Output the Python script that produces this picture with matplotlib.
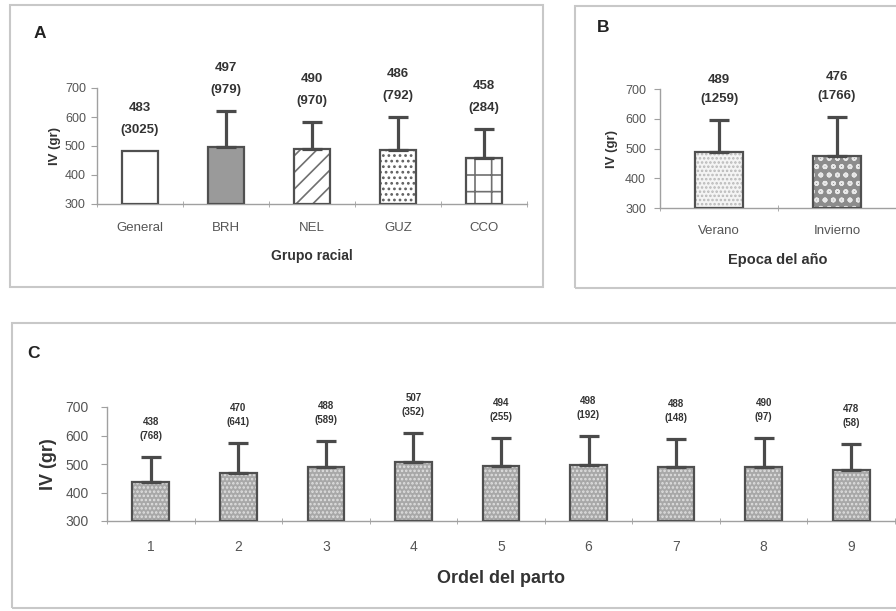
import matplotlib
matplotlib.use("Agg")
import matplotlib.pyplot as plt
from matplotlib.patches import Rectangle
import numpy as np

plt.rcParams['font.family'] = ['Liberation Sans', 'DejaVu Sans']
plt.rcParams['hatch.linewidth'] = 1.2

# ---- data ----
race_groups = ["General", "BRH", "NEL", "GUZ", "CCO"]
race_iv = [483, 497, 490, 486, 458]
race_n = [3025, 979, 970, 792, 284]
race_sd = [0, 125, 92, 114, 102]

season_labels = ["Verano", "Invierno"]
season_iv = [489, 476]
season_n = [1259, 1766]
season_sd = [106, 129]

parity_labels = ["1", "2", "3", "4", "5", "6", "7", "8", "9"]
parity_iv = [438, 470, 488, 507, 494, 498, 488, 490, 478]
parity_n = [768, 641, 589, 352, 255, 192, 148, 97, 58]
parity_sd = [88, 105, 92, 101, 98, 100, 100, 102, 92]

W, H = 896, 611
fig = plt.figure(figsize=(W / 100, H / 100), dpi=100)

frame_col = '#c8c8c8'
def frame(x0, y0, x1, y1):
    fig.patches.append(Rectangle((x0 / W, 1 - y1 / H), (x1 - x0) / W, (y1 - y0) / H,
                                 transform=fig.transFigure, fill=False,
                                 edgecolor=frame_col, linewidth=1.5, zorder=0))

frame(10, 5, 543, 287)
frame(575, 6, 920, 288)
frame(12, 323, 920, 608)

def ax_at(x0, x1, y_top, y_bot):
    return fig.add_axes([x0 / W, 1 - y_bot / H, (x1 - x0) / W, (y_bot - y_top) / H])

axis_col = '#a0a0a0'
tick_col = '#555555'
txt_col = '#333333'

def style_axes(ax, n, labels, xtick_fs, ytick_fs, xpad, ypad, ylab, ylab_fs, ylab_pad,
               xlab, xlab_fs, xlab_pad):
    ax.set_xlim(0, n)
    ax.set_ylim(300, 700)
    ax.set_yticks([300, 400, 500, 600, 700])
    ax.set_xticks(np.arange(n) + 0.5)
    ax.set_xticklabels(labels)
    ax.set_xticks(np.arange(0, n + 1), minor=True)
    for s in ['top', 'right']:
        ax.spines[s].set_visible(False)
    for s in ['left', 'bottom']:
        ax.spines[s].set_color(axis_col)
        ax.spines[s].set_linewidth(1.0)
    ax.tick_params(axis='x', which='major', length=0, pad=xpad, labelsize=xtick_fs, labelcolor=tick_col)
    ax.tick_params(axis='x', which='minor', length=4, direction='inout', color=axis_col)
    ax.tick_params(axis='y', length=4, color=axis_col, labelsize=ytick_fs, labelcolor=tick_col, pad=ypad)
    ax.set_ylabel(ylab, fontsize=ylab_fs, fontweight='bold', color=txt_col, labelpad=ylab_pad)
    ax.set_xlabel(xlab, fontsize=xlab_fs, fontweight='bold', color=txt_col, labelpad=xlab_pad)
    ax.patch.set_alpha(0)

def draw_bars(ax, vals, sds, styles, width, capsize):
    x = np.arange(len(vals)) + 0.5
    for xi, v, sd, st in zip(x, vals, sds, styles):
        fc, hatch, hc = st
        base = 300
        if hatch:
            ax.bar(xi, v - base, width, bottom=base, facecolor=fc, edgecolor=hc,
                   hatch=hatch, linewidth=0, zorder=2)
        else:
            ax.bar(xi, v - base, width, bottom=base, facecolor=fc, linewidth=0, zorder=2)
        ax.bar(xi, v - base, width, bottom=base, fill=False, edgecolor='#505050',
               linewidth=1.6, zorder=3)
        if sd > 0:
            ax.errorbar(xi, v, yerr=[[0], [sd]], fmt='none', ecolor='#4a4a4a',
                        elinewidth=2.3, capsize=capsize, capthick=2.3, zorder=4)
    return x

def draw_labels(ax, x, vals, ns, sds, fs, off1, off2):
    for xi, v, n, sd in zip(x, vals, ns, sds):
        top = v + sd
        ax.annotate(f"({n})", (xi, top), xytext=(0, off1), textcoords='offset points',
                    ha='center', va='center', fontsize=fs, fontweight='bold', color=txt_col,
                    annotation_clip=False)
        ax.annotate(f"{v}", (xi, top), xytext=(0, off2), textcoords='offset points',
                    ha='center', va='center', fontsize=fs, fontweight='bold', color=txt_col,
                    annotation_clip=False)

# ---- Panel A ----
axA = ax_at(97, 527, 88, 204)
stylesA = [('white', None, None),
           ('#9a9a9a', None, None),
           ('white', '//', '#707070'),
           ('white', '...', '#606060'),
           ('white', '+', '#707070')]
xA = draw_bars(axA, race_iv, race_sd, stylesA, 0.42, 7)
style_axes(axA, len(race_groups), race_groups, 9.5, 9, 13, 4,
           "IV (gr)", 9.5, 3, "Grupo racial", 10, 11)
draw_labels(axA, xA, race_iv, race_n, race_sd, 9.5, 15, 31)
fig.text(40 / W, 1 - 33 / H, "A", fontsize=12.5, fontweight='bold', color='#222222',
         ha='center', va='center')

# ---- Panel B ----
axB = ax_at(660, 896, 89, 208)
stylesB = [('#f4f4f4', '....', '#b8b8b8'),
           ('#8c8c8c', 'oo', '#e8e8e8')]
xB = draw_bars(axB, season_iv, season_sd, stylesB, 0.41, 7)
style_axes(axB, len(season_labels), season_labels, 9.5, 9, 12, 6,
           "IV (gr)", 9.5, 5, "Epoca del año", 10.5, 12)
draw_labels(axB, xB, season_iv, season_n, season_sd, 9.5, 15, 29)
fig.text(603 / W, 1 - 27 / H, "B", fontsize=12.5, fontweight='bold', color='#222222',
         ha='center', va='center')

# ---- Panel C ----
axC = ax_at(107, 895, 407, 521)
stylesC = [('#a8a8a8', '....', '#e0e0e0')] * len(parity_iv)
xC = draw_bars(axC, parity_iv, parity_sd, stylesC, 0.42, 7)
style_axes(axC, len(parity_labels), parity_labels, 10, 10, 14, 9,
           "IV (gr)", 13, 6, "Ordel del parto", 13, 11)
draw_labels(axC, xC, parity_iv, parity_n, parity_sd, 7, 15, 25)
fig.text(33 / W, 1 - 354 / H, "C", fontsize=12.5, fontweight='bold', color='#222222',
         ha='center', va='center')

fig.savefig("out.png", dpi=100)
